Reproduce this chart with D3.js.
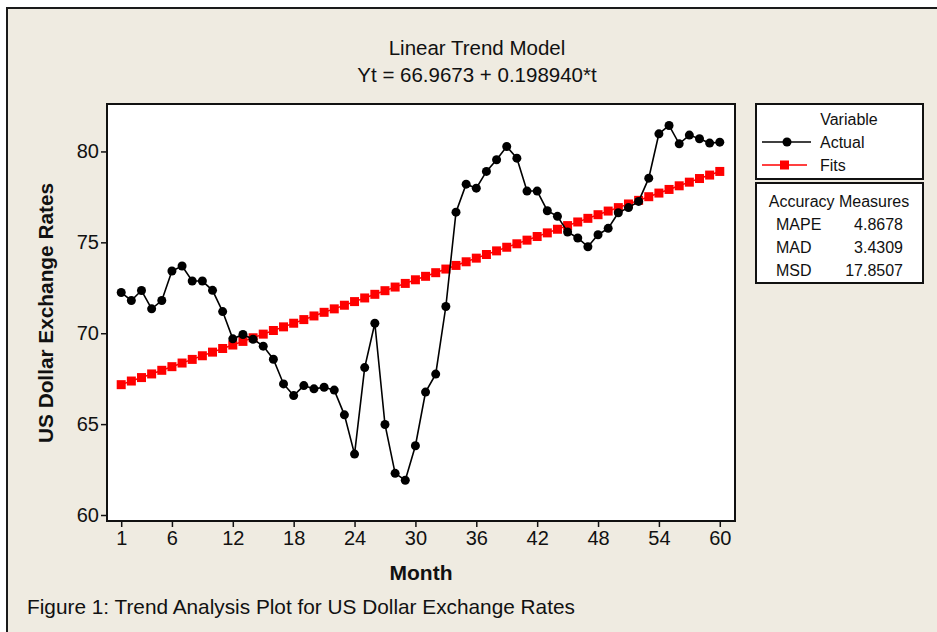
<!DOCTYPE html>
<html>
<head>
<meta charset="utf-8">
<script src="https://cdn.jsdelivr.net/npm/d3@7"></script>
<style>
  body { margin: 0; background: #fff; }
  text { font-family: "Liberation Sans", Arial, sans-serif; fill: #111; }
</style>
</head>
<body>
<div id="chart"></div>
<script>
// Data
const months = d3.range(1, 61)
const actual = [72.24, 71.80, 72.35, 71.34, 71.80, 73.42, 73.70, 72.87, 72.87, 72.36,
  71.19, 69.69, 69.93, 69.67, 69.29, 68.57, 67.21, 66.57, 67.12, 66.94,
  67.03, 66.87, 65.51, 63.35, 68.11, 70.55, 64.98, 62.29, 61.91, 63.81,
  66.76, 67.75, 71.47, 76.66, 78.20, 77.98, 78.90, 79.54, 80.27, 79.63,
  77.82, 77.82, 76.74, 76.43, 75.57, 75.24, 74.76, 75.42, 75.77, 76.63,
  76.91, 77.25, 78.53, 80.97, 81.43, 80.42, 80.90, 80.70, 80.46, 80.51]
const fits = [67.17, 67.37, 67.56, 67.76, 67.96, 68.16, 68.36, 68.56, 68.76, 68.96,
  69.16, 69.35, 69.55, 69.75, 69.95, 70.15, 70.35, 70.55, 70.75, 70.95,
  71.15, 71.34, 71.54, 71.74, 71.94, 72.14, 72.34, 72.54, 72.74, 72.94,
  73.13, 73.33, 73.53, 73.73, 73.93, 74.13, 74.33, 74.53, 74.73, 74.92,
  75.12, 75.32, 75.52, 75.72, 75.92, 76.12, 76.32, 76.52, 76.72, 76.91,
  77.11, 77.31, 77.51, 77.71, 77.91, 78.11, 78.31, 78.51, 78.70, 78.90]
const xTicks = [1, 6, 12, 18, 24, 30, 36, 42, 48, 54, 60]
const yTicks = [60, 65, 70, 75, 80]
const measureNames = ['MAPE', 'MAD', 'MSD']
const measureValues = ['4.8678', '3.4309', '17.8507']

const titleLines = ['Linear Trend Model', 'Yt = 66.9673 + 0.198940*t']
const caption = 'Figure 1: Trend Analysis Plot for US Dollar Exchange Rates'

buildChart()

function buildChart() {
  const W = 937, H = 632
  const plot = {left: 107, top: 104, right: 735, bottom: 521}

  const svg = d3.select('#chart').append('svg')
    .attr('width', W)
    .attr('height', H)

  // beige panel with dark border (top/left edges visible)
  svg.append('rect')
    .attr('x', 7).attr('y', 8)
    .attr('width', W + 10).attr('height', H + 10)
    .attr('fill', '#efebe1')
    .attr('stroke', '#1a1a1a')
    .attr('stroke-width', 2)

  // titles
  svg.selectAll('.title')
    .data(titleLines)
    .enter().append('text')
    .attr('class', 'title')
    .attr('x', 477)
    .attr('y', (d, i) => 55 + i * 27)
    .attr('text-anchor', 'middle')
    .attr('font-size', 20.5)
    .text(d => d)

  // scales
  const x = d3.scaleLinear()
    .domain([-0.4, 61.5])
    .range([plot.left, plot.right])
  const y = d3.scaleLinear()
    .domain([59.67, 82.61])
    .range([plot.bottom, plot.top])

  // plot background
  svg.append('rect')
    .attr('x', plot.left).attr('y', plot.top)
    .attr('width', plot.right - plot.left)
    .attr('height', plot.bottom - plot.top)
    .attr('fill', '#fff')

  // axes
  const xAxis = svg.append('g')
    .attr('transform', 'translate(0,' + plot.bottom + ')')
    .call(d3.axisBottom(x).tickValues(xTicks).tickSize(6).tickPadding(4).tickSizeOuter(0))
  const yAxis = svg.append('g')
    .attr('transform', 'translate(' + plot.left + ',0)')
    .call(d3.axisLeft(y).tickValues(yTicks).tickSize(6).tickPadding(2).tickSizeOuter(0))
  for (const ax of [xAxis, yAxis]) {
    ax.select('.domain').remove()
    ax.selectAll('line').attr('stroke', '#111').attr('stroke-width', 1.5)
    ax.selectAll('text').attr('font-size', 20).attr('fill', '#111')
      .attr('font-family', '"Liberation Sans", Arial, sans-serif')
  }

  // plot frame
  svg.append('rect')
    .attr('x', plot.left).attr('y', plot.top)
    .attr('width', plot.right - plot.left)
    .attr('height', plot.bottom - plot.top)
    .attr('fill', 'none')
    .attr('stroke', '#111')
    .attr('stroke-width', 2)

  // axis titles
  svg.append('text')
    .attr('x', 421).attr('y', 580)
    .attr('text-anchor', 'middle')
    .attr('font-size', 21)
    .attr('font-weight', 'bold')
    .text('Month')
  svg.append('text')
    .attr('transform', 'translate(53,313) rotate(-90)')
    .attr('text-anchor', 'middle')
    .attr('font-size', 20.8)
    .attr('font-weight', 'bold')
    .text('US Dollar Exchange Rates')

  // fits: red line with squares
  const fitLine = d3.line().x((d, i) => x(months[i])).y(d => y(d))
  svg.append('path')
    .datum(fits)
    .attr('d', fitLine)
    .attr('fill', 'none')
    .attr('stroke', '#ff0000')
    .attr('stroke-width', 1.5)
  svg.append('g').selectAll('rect')
    .data(fits)
    .enter().append('rect')
    .attr('x', (d, i) => x(months[i]) - 4.5)
    .attr('y', d => y(d) - 4.5)
    .attr('width', 9).attr('height', 9)
    .attr('fill', '#ff0000')

  // actual: black line with dots
  svg.append('path')
    .datum(actual)
    .attr('d', fitLine)
    .attr('fill', 'none')
    .attr('stroke', '#000')
    .attr('stroke-width', 1.6)
  svg.append('g').selectAll('circle')
    .data(actual)
    .enter().append('circle')
    .attr('cx', (d, i) => x(months[i]))
    .attr('cy', d => y(d))
    .attr('r', 4.5)
    .attr('fill', '#000')

  // legend box
  const leg = svg.append('g')
  leg.append('rect')
    .attr('x', 756).attr('y', 104).attr('width', 167).attr('height', 75)
    .attr('fill', '#fff').attr('stroke', '#111').attr('stroke-width', 2)
  leg.append('text').attr('x', 849).attr('y', 125).attr('text-anchor', 'middle')
    .attr('font-size', 16).text('Variable')
  leg.append('line').attr('x1', 762).attr('x2', 811).attr('y1', 142).attr('y2', 142)
    .attr('stroke', '#000').attr('stroke-width', 1.5)
  leg.append('circle').attr('cx', 787).attr('cy', 142).attr('r', 4.5).attr('fill', '#000')
  leg.append('text').attr('x', 820).attr('y', 148).attr('font-size', 16).text('Actual')
  leg.append('line').attr('x1', 762).attr('x2', 807).attr('y1', 165).attr('y2', 165)
    .attr('stroke', '#ff0000').attr('stroke-width', 1.5)
  leg.append('rect').attr('x', 780).attr('y', 160.5).attr('width', 9).attr('height', 9)
    .attr('fill', '#ff0000')
  leg.append('text').attr('x', 820).attr('y', 171).attr('font-size', 16).text('Fits')

  // accuracy measures box
  leg.append('rect')
    .attr('x', 756).attr('y', 183).attr('width', 167).attr('height', 100)
    .attr('fill', '#fff').attr('stroke', '#111').attr('stroke-width', 2)
  leg.append('text').attr('x', 839).attr('y', 207).attr('text-anchor', 'middle')
    .attr('font-size', 16).text('Accuracy Measures')
  leg.selectAll('.mname')
    .data(measureNames)
    .enter().append('text')
    .attr('class', 'mname')
    .attr('x', 776).attr('y', (d, i) => 230 + i * 23)
    .attr('font-size', 16).text(d => d)
  leg.selectAll('.mval')
    .data(measureValues)
    .enter().append('text')
    .attr('class', 'mval')
    .attr('x', 903).attr('y', (d, i) => 230 + i * 23)
    .attr('text-anchor', 'end')
    .attr('font-size', 16).text(d => d)

  // caption
  svg.append('text')
    .attr('x', 27).attr('y', 614)
    .attr('font-size', 20.8)
    .text(caption)
}
</script>
</body>
</html>
